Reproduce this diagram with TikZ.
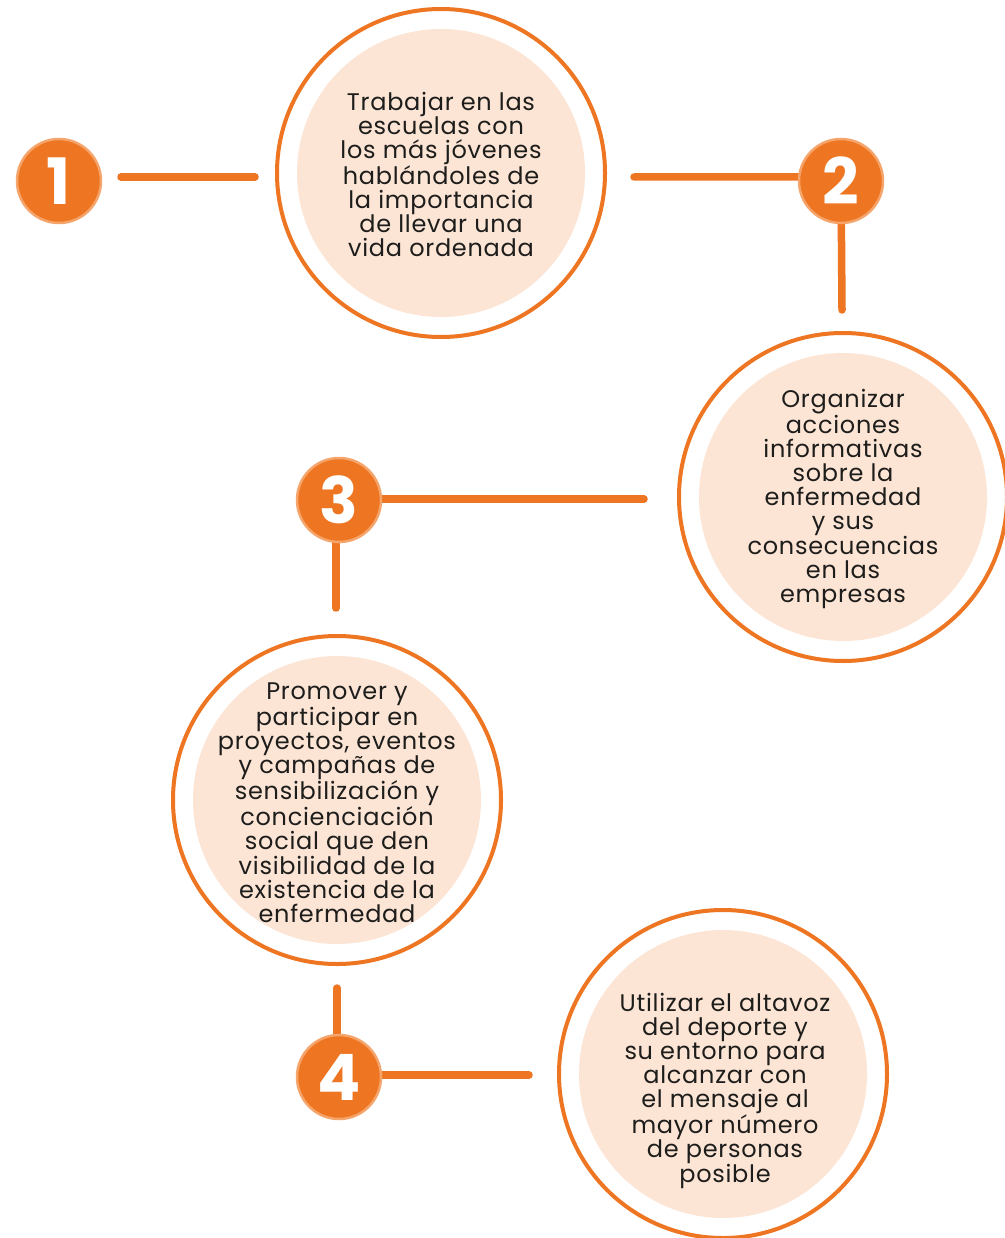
\documentclass[tikz,border=0pt]{standalone}
\usepackage{fontspec}
\setmainfont{Poppins}
\newfontfamily\lblfont[LetterSpace=3]{Poppins}
\definecolor{orng}{HTML}{EE7623}
\definecolor{orngl}{HTML}{F5A56B}
\definecolor{peach}{HTML}{FDE5D6}
\definecolor{txt}{HTML}{1D1D1B}
\begin{document}
\begin{tikzpicture}[x=1pt,y=-1pt,
  ring/.style={circle,draw=orng,line width=4pt,fill=white,minimum size=328pt,inner sep=0pt},
  core/.style={circle,fill=peach,minimum size=288pt,inner sep=0pt},
  badge/.style={circle,fill=orng,draw=orngl,line width=2.5pt,minimum size=84pt,inner sep=0pt,
     text=white,font=\fontsize{64}{64}\selectfont\bfseries},
  lbl/.style={align=center,text=txt,font=\lblfont\fontsize{24}{24}\selectfont,inner sep=0pt},
  conn/.style={draw=orng,line width=7.5pt,line cap=round}]
\useasboundingbox (0,0) rectangle (1004,1238);
\fill[white] (0,0) rectangle (1004,1238);
% circles
\node[ring] (r1) at (441,173) {};
\node[core] (c1) at (441,173) {};
\node[ring] (r2) at (843,497) {};
\node[core] (c2) at (843,497) {};
\node[ring] (r3) at (337,800) {};
\node[core] (c3) at (337,800) {};
\node[ring] (r4) at (723,1074) {};
\node[core] (c4) at (723,1074) {};
% texts
\node[lbl] (t1) at (441,174) {Trabajar en las\\escuelas con\\los más jóvenes\\hablándoles de\\la importancia\\de llevar una\\vida ordenada};
\node[lbl] (t2) at (843,499) {Organizar\\acciones\\informativas\\sobre la\\enfermedad\\y sus\\consecuencias\\en las\\empresas};
\node[lbl] (t3) at (337,803) {Promover y\\participar en\\proyectos, eventos\\y campañas de\\sensibilización y\\concienciación\\social que den\\visibilidad de la\\existencia de la\\enfermedad};
\node[lbl] (t4) at (725,1091) {Utilizar el altavoz\\del deporte y\\su entorno para\\alcanzar con\\el mensaje al\\mayor número\\de personas\\posible};
% connector ends
\coordinate (a1) at (121,177);
\coordinate (a2) at (255,177);
\coordinate (a3) at (634,177);
\coordinate (a4) at (842,310);
\coordinate (a5) at (644,499);
\coordinate (a6) at (336,608);
\coordinate (a7) at (337,988);
\coordinate (a8) at (529,1075);
% connectors
\draw[conn] (a1) -- (a2);
\draw[conn] (a3) -- (841,177) -- (a4);
\draw[conn] (339,499) -- (a5);
\draw[conn] (336,500) -- (a6);
\draw[conn] (a7) -- (337,1076);
\draw[conn] (339,1075) -- (a8);
% badges
\node[badge] (b1) at (59,181) {1};
\node[badge] (b2) at (841,181) {2};
\node[badge] (b3) at (339,500) {3};
\node[badge] (b4) at (339,1077) {4};
\end{tikzpicture}
\end{document}
